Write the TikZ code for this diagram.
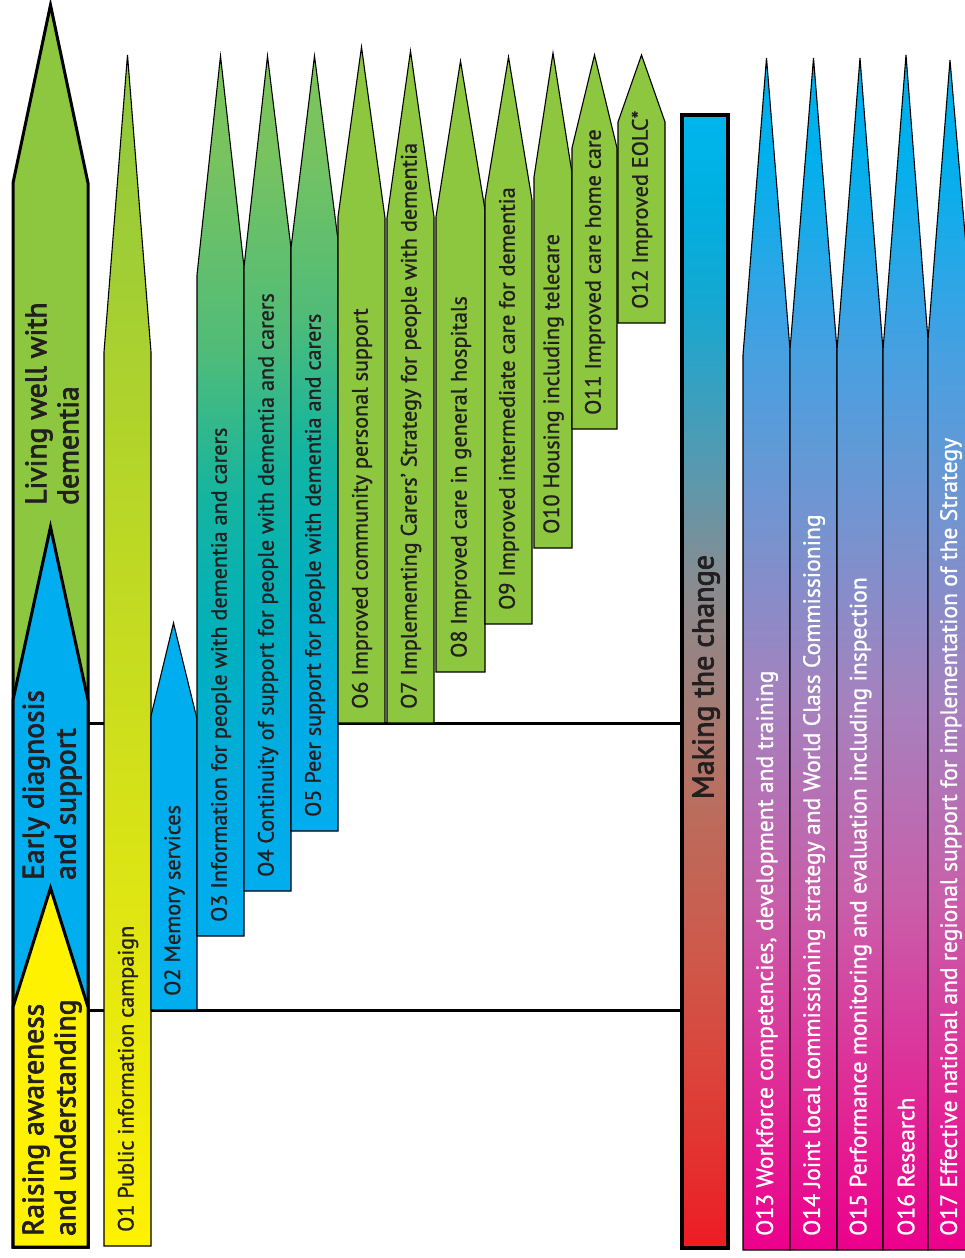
\documentclass[tikz,border=0pt]{standalone}
\usepackage{fontspec}
\setmainfont{PT Sans}
\newfontfamily\otextfont[FakeBold=1.0]{PT Sans}
\newfontfamily\stagefont[FakeBold=2.6]{PT Sans}
\definecolor{lwgreen}{RGB}{141,198,63}
\definecolor{edblue}{RGB}{0,174,239}
\definecolor{rayellow}{RGB}{255,242,0}
\definecolor{txt}{RGB}{35,31,32}
% teal gradient stops
\definecolor{ta}{RGB}{0,172,228}
\definecolor{tb}{RGB}{0,176,190}
\definecolor{tc}{RGB}{20,180,160}
\definecolor{td}{RGB}{80,188,120}
\definecolor{te}{RGB}{120,195,95}
\definecolor{tf}{RGB}{125,197,90}
% making the change stops
\definecolor{ma}{RGB}{237,28,36}
\definecolor{mb}{RGB}{222,62,55}
\definecolor{mc}{RGB}{205,90,75}
\definecolor{md}{RGB}{185,110,95}
\definecolor{me}{RGB}{158,128,122}
\definecolor{mf}{RGB}{135,140,145}
\definecolor{mg}{RGB}{80,155,180}
\definecolor{mh}{RGB}{20,168,210}
\definecolor{mi}{RGB}{0,175,225}
\definecolor{mj}{RGB}{0,182,237}
% pink stops
\definecolor{pa}{RGB}{236,0,140}
\definecolor{pb}{RGB}{225,40,150}
\definecolor{pc}{RGB}{200,95,170}
\definecolor{pd}{RGB}{165,130,190}
\definecolor{pe}{RGB}{110,150,210}
\definecolor{pf}{RGB}{70,160,225}
\definecolor{pg}{RGB}{0,176,237}
\pgfdeclareverticalshading{tealshade}{100bp}{color(0bp)=(edblue); color(25bp)=(edblue); color(32.7bp)=(ta); color(41.2bp)=(tb); color(49.8bp)=(tc); color(58.3bp)=(td); color(69.5bp)=(te); color(75bp)=(tf); color(100bp)=(tf)}
\pgfdeclareverticalshading{mtcshade}{100bp}{color(0bp)=(ma); color(25bp)=(ma); color(31.5bp)=(mb); color(38.2bp)=(mc); color(44.8bp)=(md); color(50bp)=(me); color(54.5bp)=(mf); color(60.2bp)=(mg); color(66.8bp)=(mh); color(71.2bp)=(mi); color(75bp)=(mj); color(100bp)=(mj)}
\pgfdeclareverticalshading{pinkshade}{100bp}{color(0bp)=(pa); color(25bp)=(pa); color(31.3bp)=(pb); color(39.7bp)=(pc); color(48bp)=(pd); color(56.5bp)=(pe); color(62.7bp)=(pf); color(71bp)=(pg); color(75bp)=(pg); color(100bp)=(pg)}
\newcommand\oarrow[7]{(#1,#7) -- (#1,#5) -- (#3,#4) -- (#2,#6) -- (#2,#7) -- cycle}
\tikzset{
  stagebox/.style={draw=black, line width=3pt, line join=miter},
  outbox/.style={draw=black, line width=1.1pt, line join=miter},
  greenout/.style={outbox, fill=lwgreen},
  tealout/.style={outbox, shade, shading=tealshade},
  pinkout/.style={outbox, shade, shading=pinkshade},
  otext/.style={rotate=90, anchor=west, inner sep=0pt, text=txt, font=\otextfont\fontsize{22.2}{26}\selectfont},
  wtext/.style={rotate=90, anchor=west, inner sep=0pt, text=white, font=\otextfont\fontsize{23.6}{28}\selectfont},
  stext/.style={rotate=90, anchor=west, inner sep=0pt, text=txt, align=left, font=\stagefont\fontsize{29.5}{32}\selectfont},
  linkline/.style={draw=black, line width=3pt}
}
\begin{document}
\begin{tikzpicture}[x=1pt,y=-1pt]
\useasboundingbox (0,0) rectangle (965,1258);
% stage arrows
\path[stagebox, fill=lwgreen] \oarrow{13}{88}{50.5}{5}{183}{183}{1247};
\path[stagebox, fill=edblue] \oarrow{13}{88}{50.5}{527}{700}{700}{1247};
\path[stagebox, fill=rayellow] \oarrow{13}{88}{50.5}{888}{1007}{1007}{1247};
\node[stext] (lw) at (52,505) {Living well with\\dementia};
\node[stext] (ed) at (52,880) {Early diagnosis\\and support};
\node[stext] (ra) at (52,1236) {Raising awareness\\and understanding};
% link coordinates
\coordinate (stageA) at (88,723);
\coordinate (stageB) at (88,1010);
\coordinate (mtcA) at (682,723);
\coordinate (mtcB) at (682,1010);
\draw[linkline] (stageA) -- (mtcA);
\draw[linkline] (stageB) -- (mtcB);
% outcomes O1-O12
\path[outbox, top color=lwgreen, bottom color=rayellow] \oarrow{104}{151}{127.5}{55}{352}{352}{1246};
\path[outbox, fill=edblue] \oarrow{151}{197}{173.5}{623}{716}{719}{1010};
\path[tealout] \oarrow{197}{244}{220.5}{56}{275}{267}{936};
\path[tealout] \oarrow{244}{291}{267.5}{56}{267}{248}{891};
\path[tealout] \oarrow{291}{338}{314.5}{56}{248}{240}{831};
\path[greenout] \oarrow{338}{385}{361.5}{47}{217}{218}{723};
\path[greenout] \oarrow{387}{434}{410.5}{51}{218}{217}{723};
\path[greenout] \oarrow{436}{485}{460.5}{61}{217}{210}{672};
\path[greenout] \oarrow{485}{532}{508.5}{57}{200}{200}{624};
\path[greenout] \oarrow{534}{572}{553}{53}{177}{173}{548};
\path[greenout] \oarrow{572}{617}{594.5}{55}{148}{148}{429};
\path[greenout] \oarrow{618}{665}{641.5}{55}{122}{122}{323};
\node[otext] (o1) at (128,1232) {O1 Public information campaign};
\node[otext] (o2) at (174.5,996) {O2 Memory services};
\node[otext] (o3) at (221,922) {O3 Information for people with dementia and carers};
\node[otext] (o4) at (268,877) {O4 Continuity of support for people with dementia and carers};
\node[otext] (o5) at (315,817) {O5 Peer support for people with dementia and carers};
\node[otext] (o6) at (362,709) {O6 Improved community personal support};
\node[otext] (o7) at (411,709) {O7 Implementing Carers’ Strategy for people with dementia};
\node[otext] (o8) at (461,658) {O8 Improved care in general hospitals};
\node[otext] (o9) at (509,610) {O9 Improved intermediate care for dementia};
\node[otext] (o10) at (553.5,534) {O10 Housing including telecare};
\node[otext] (o11) at (595,415) {O11 Improved care home care};
\node[otext] (o12) at (642,309) {O12 Improved EOLC*};
% making the change
\path[draw=black, line width=4.5pt, shade, shading=mtcshade] (682,115) rectangle (728,1248);
\node[rotate=90, inner sep=0pt, text=txt, font=\stagefont\fontsize{30}{34}\selectfont] (mtc) at (706,677) {Making the change};
% O13-O17
\path[pinkout] \oarrow{743}{790}{766.5}{58}{355}{350}{1250};
\path[pinkout] \oarrow{790}{837}{813.5}{58}{350}{350}{1250};
\path[pinkout] \oarrow{837}{883}{860}{58}{350}{350}{1250};
\path[pinkout] \oarrow{883}{928}{906}{55}{350}{340}{1250};
\path[pinkout] \oarrow{928}{975}{950}{60}{340}{350}{1250};
\node[wtext] (o13) at (767,1236) {O13 Workforce competencies, development and training};
\node[wtext] (o14) at (814,1236) {O14 Joint local commissioning strategy and World Class Commissioning};
\node[wtext] (o15) at (860.5,1236) {O15 Performance monitoring and evaluation including inspection};
\node[wtext] (o16) at (906,1236) {O16 Research};
\node[wtext] (o17) at (951,1236) {O17 Effective national and regional support for implementation of the Strategy};
\end{tikzpicture}
\end{document}
